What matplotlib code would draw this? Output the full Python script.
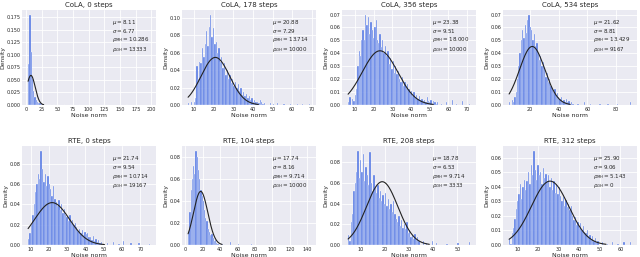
import numpy as np
import matplotlib
matplotlib.use("Agg")
import matplotlib.pyplot as plt
import seaborn as sns
from matplotlib.ticker import MultipleLocator

sns.set_style("darkgrid")
plt.rcParams['font.family'] = ['DejaVu Sans']

titles = ["CoLA, 0 steps", "CoLA, 178 steps", "CoLA, 356 steps", "CoLA, 534 steps",
          "RTE, 0 steps", "RTE, 104 steps", "RTE, 208 steps", "RTE, 312 steps"]
mu = [8.11, 20.88, 23.38, 21.62, 21.74, 17.74, 18.78, 25.90]
sigma = [6.77, 7.29, 9.51, 8.81, 9.54, 8.16, 6.53, 9.06]
rho_mh = ["10.286", "13.714", "18.000", "13.429", "10.714", "9.714", "9.714", "5.143"]
rho_gh = ["13333", "10000", "10000", "9167", "19167", "10000", "3333", "0"]

# histogram bins: first edge, bin width, bar heights (density)
bin_start = [3.6, 7.0, 6.3, 5.5, 8.6, 3.3, 4.6, 6.0]
bin_width = [2.0, 0.7, 0.7, 0.9, 0.75, 1.4, 0.55, 0.65]

cola0_h = [0.082, 0.180, 0.105, 0.052, 0.028, 0.016, 0.010, 0.006, 0.004, 0.003,
           0.002, 0.0015, 0.001, 0.0008, 0.0005, 0.0005, 0.0003, 0.0003]
cola178_h = [0.002, 0.000, 0.003, 0.000, 0.004, 0.008,
             0.045, 0.030, 0.050, 0.048,
             0.065, 0.055, 0.070,
             0.085, 0.068, 0.090,
             0.104,
             0.078, 0.088, 0.070,
             0.072, 0.060, 0.065,
             0.050, 0.055, 0.042, 0.048,
             0.035, 0.040, 0.030, 0.034,
             0.025, 0.030, 0.022, 0.026,
             0.020, 0.024, 0.016, 0.020,
             0.012, 0.015, 0.010, 0.013, 0.008,
             0.010, 0.006, 0.008, 0.004, 0.006, 0.003,
             0.004, 0.002, 0.006, 0.003, 0.001, 0.002, 0.000]
cola356_h = [0.002, 0.006, 0.000, 0.005, 0.003, 0.008, 0.012,
             0.030, 0.042, 0.038, 0.050,
             0.058, 0.050, 0.070,
             0.062, 0.068, 0.055, 0.064, 0.058, 0.052, 0.060, 0.066, 0.050,
             0.048, 0.055, 0.045, 0.050, 0.040, 0.046, 0.038, 0.042,
             0.032, 0.036, 0.028, 0.034, 0.025, 0.030, 0.024, 0.026,
             0.020, 0.018, 0.022, 0.015, 0.018, 0.013, 0.016,
             0.012, 0.009, 0.011, 0.007, 0.010, 0.006, 0.008, 0.005, 0.007, 0.004,
             0.005, 0.003, 0.004, 0.002, 0.006, 0.003, 0.002, 0.004, 0.001, 0.003, 0.002, 0.001, 0.002]
cola534_h = [0.002, 0.000, 0.004, 0.002, 0.006, 0.010, 0.020,
             0.030, 0.040,
             0.050, 0.058, 0.052, 0.062, 0.056, 0.066, 0.070, 0.060,
             0.058, 0.050, 0.055, 0.046, 0.048,
             0.040, 0.035, 0.038, 0.030, 0.033,
             0.028, 0.022, 0.025, 0.018, 0.020,
             0.015, 0.012, 0.010, 0.012, 0.007, 0.009, 0.006, 0.005,
             0.006, 0.003, 0.004, 0.002, 0.005, 0.002, 0.003, 0.001, 0.002, 0.001]
rte0_h = [0.006, 0.012, 0.020, 0.030, 0.040,
          0.052, 0.060, 0.070, 0.065,
          0.093,
          0.075, 0.062, 0.070, 0.058, 0.068, 0.060,
          0.055, 0.048, 0.058, 0.045,
          0.042, 0.038, 0.044, 0.035, 0.040, 0.032, 0.036, 0.030,
          0.028, 0.024, 0.030, 0.022, 0.025, 0.020, 0.022,
          0.018, 0.014, 0.016, 0.012, 0.015, 0.010, 0.013, 0.011, 0.012, 0.008,
          0.008, 0.005, 0.009, 0.004, 0.006, 0.003, 0.005, 0.002, 0.003]
rte104_h = [0.012, 0.030, 0.050,
            0.060, 0.072, 0.065,
            0.086,
            0.080, 0.068, 0.060,
            0.050, 0.045, 0.040,
            0.032, 0.025, 0.022,
            0.015, 0.012, 0.009, 0.010,
            0.006, 0.004, 0.005, 0.002, 0.001]
rte208_h = [0.010, 0.004, 0.022, 0.030,
            0.052, 0.060, 0.070,
            0.091, 0.065, 0.082,
            0.070, 0.088, 0.062, 0.075, 0.068, 0.058, 0.090,
            0.060, 0.052, 0.068, 0.055, 0.050,
            0.058, 0.045, 0.052, 0.042, 0.048, 0.040, 0.050,
            0.038, 0.044, 0.035, 0.040, 0.032, 0.042, 0.030,
            0.025, 0.022, 0.028, 0.018, 0.024, 0.016, 0.020, 0.015, 0.022,
            0.012, 0.014, 0.008, 0.010, 0.006, 0.011, 0.005, 0.008, 0.004]
rte312_h = [0.004, 0.001, 0.008, 0.012, 0.018, 0.025, 0.030,
            0.035, 0.042, 0.032, 0.040, 0.045, 0.038, 0.044,
            0.050, 0.042, 0.055, 0.048, 0.065,
            0.052, 0.045, 0.055, 0.048, 0.050, 0.042, 0.053, 0.046, 0.049, 0.044,
            0.048, 0.040, 0.046, 0.038, 0.044, 0.036, 0.042, 0.035, 0.040,
            0.034, 0.030, 0.033, 0.027, 0.031, 0.026, 0.028, 0.024, 0.027,
            0.020, 0.017, 0.019, 0.014, 0.016, 0.012, 0.015, 0.010, 0.013, 0.009,
            0.008, 0.010, 0.006, 0.007, 0.004, 0.006, 0.003, 0.005, 0.002, 0.003]

# sparse outlier bars in the long right tails: bin left edge, height
cola0_tail_x = [44.0, 52.0, 60.0, 71.0, 85.0, 102.0, 123.0, 160.0, 195.6]
cola0_tail_h = [0.0003, 0.0003, 0.0002, 0.0002, 0.0002, 0.0002, 0.0002, 0.0002, 0.0002]
cola178_tail_x = [48.5, 50.2, 52.0, 55.5, 58.8, 62.4, 65.0, 68.3]
cola178_tail_h = [0.002, 0.001, 0.002, 0.001, 0.001, 0.001, 0.001, 0.001]
cola356_tail_x = [56.0, 58.5, 61.7, 64.0, 67.2, 70.8]
cola356_tail_h = [0.001, 0.002, 0.004, 0.001, 0.003, 0.001]
cola534_tail_x = [53.0, 57.5, 62.0, 68.5, 74.0, 80.5, 89.5]
cola534_tail_h = [0.001, 0.002, 0.001, 0.001, 0.001, 0.001, 0.002]
rte0_tail_x = [51.5, 55.0, 58.0, 60.5, 64.5, 69.0, 74.5]
rte0_tail_h = [0.002, 0.003, 0.001, 0.004, 0.002, 0.002, 0.001]
rte104_tail_x = [42.0, 51.6, 60.0, 75.0, 98.0, 120.0, 141.5]
rte104_tail_h = [0.001, 0.003, 0.0005, 0.0005, 0.0003, 0.0003, 0.0003]
rte208_tail_x = [35.8, 37.0, 39.3, 41.2, 45.5, 50.0, 54.7]
rte208_tail_h = [0.004, 0.002, 0.004, 0.002, 0.001, 0.002, 0.003]
rte312_tail_x = [51.0, 53.5, 56.0, 58.5, 61.5, 64.5]
rte312_tail_h = [0.002, 0.001, 0.002, 0.001, 0.002, 0.002]

heights = [cola0_h, cola178_h, cola356_h, cola534_h, rte0_h, rte104_h, rte208_h, rte312_h]
tails_x = [cola0_tail_x, cola178_tail_x, cola356_tail_x, cola534_tail_x,
           rte0_tail_x, rte104_tail_x, rte208_tail_x, rte312_tail_x]
tails_h = [cola0_tail_h, cola178_tail_h, cola356_tail_h, cola534_tail_h,
           rte0_tail_h, rte104_tail_h, rte208_tail_h, rte312_tail_h]

x_step = [25, 10, 10, 20, 10, 20, 10, 10]
y_step = [0.025, 0.02, 0.01, 0.01, 0.02, 0.02, 0.02, 0.01]

fig = plt.figure(figsize=(6.4, 2.57), dpi=100)
W, H = 640, 257
col_left = [22, 182, 342, 503]
ax_w = 134
row_box = [(10, 105), (146, 245)]

bar_color = "#4169E1"
for i in range(8):
    r, c = divmod(i, 4)
    top, bot = row_box[r]
    ax = fig.add_axes([col_left[c] / W, 1 - bot / H, ax_w / W, (bot - top) / H])
    w = bin_width[i]
    h = np.array(heights[i])
    lefts = bin_start[i] + w * np.arange(len(h))
    ax.bar(lefts, h, width=w, align='edge', color=bar_color, alpha=0.85,
           edgecolor='white', linewidth=0.25)
    ax.bar(tails_x[i], tails_h[i], width=w, align='edge', color=bar_color, alpha=0.85,
           edgecolor='white', linewidth=0.25)
    xs = np.linspace(bin_start[i], mu[i] + 3 * sigma[i], 200)
    pdf = np.exp(-0.5 * ((xs - mu[i]) / sigma[i]) ** 2) / (sigma[i] * np.sqrt(2 * np.pi))
    ax.plot(xs, pdf, color='#222222', lw=0.8)
    ax.xaxis.set_major_locator(MultipleLocator(x_step[i]))
    ax.yaxis.set_major_locator(MultipleLocator(y_step[i]))
    ax.tick_params(labelsize=3.5, length=0, pad=1.2)
    ax.set_title(titles[i], fontsize=5, pad=2)
    ax.set_xlabel("Noise norm", fontsize=4.5, labelpad=1)
    ax.set_ylabel("Density", fontsize=4.3, labelpad=1)
    for s in ax.spines.values():
        s.set_visible(False)
    ax.grid(True, color='white', lw=0.6)
    txt = (r"$\mu = %.2f$" % mu[i] + "\n" + r"$\sigma = %.2f$" % sigma[i] + "\n" +
           r"$\rho_{MH} = %s$" % rho_mh[i] + "\n" + r"$\rho_{GH} = %s$" % rho_gh[i])
    ax.text(0.67, 0.92, txt, transform=ax.transAxes, fontsize=4, va='top', ha='left',
            linespacing=1.05)

fig.savefig("out.png", dpi=100)
